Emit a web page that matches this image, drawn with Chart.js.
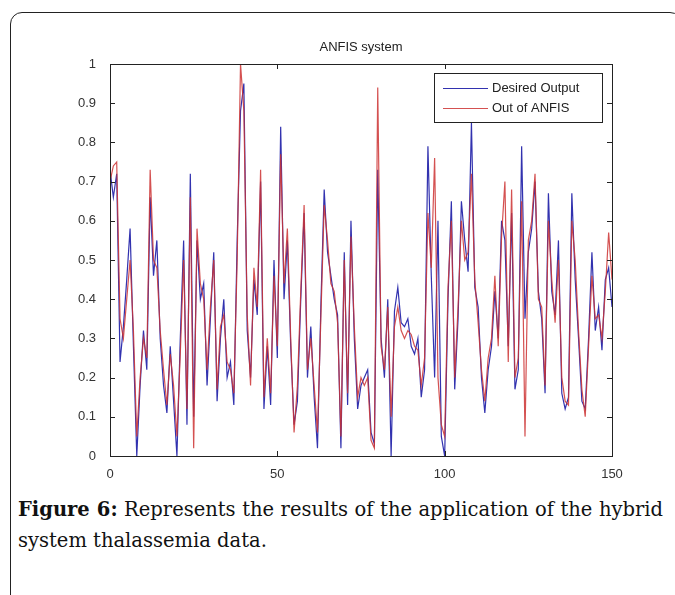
<!DOCTYPE html>
<html>
<head>
<meta charset="utf-8">
<script src="https://cdn.jsdelivr.net/npm/chart.js@4"></script>
<style>
  html,body{margin:0;padding:0;background:#fff;}
  #page{position:relative;width:675px;height:595px;overflow:hidden;}
  #frame{position:absolute;left:10px;top:12px;width:672px;height:640px;border:1.5px solid #222;border-radius:12px;box-sizing:border-box;}
  #wrap{position:absolute;left:0;top:0;width:675px;height:480px;}
  .cap{position:absolute;left:18px;width:645px;font-family:"DejaVu Serif",serif;font-size:19.5px;color:#111;white-space:nowrap;}
  #l1{top:498px;text-align:justify;text-align-last:justify;white-space:normal;}
  #l2{top:529px;}
</style>
</head>
<body>
<div id="page">
<div id="frame"></div>
<div id="wrap"><canvas id="c" width="675" height="480"></canvas></div>
<div class="cap" id="l1"><b>Figure 6:</b> Represents the results of the application of the hybrid</div>
<div class="cap" id="l2">system thalassemia data.</div>
</div>
<script>
const chartTitle = "ANFIS system";
const seriesNames = ["Desired Output", "Out of ANFIS"];
const xTickLabels = ["0", "50", "100", "150"];
const yTickLabels = ["0","0.1","0.2","0.3","0.4","0.5","0.6","0.7","0.8","0.9","1"];

const desired = [
0.73,0.66,0.72,0.24,0.33,0.45,0.58,0.28,0.00,0.18,
0.32,0.22,0.66,0.46,0.55,0.30,0.18,0.11,0.28,0.14,
0.00,0.30,0.55,0.08,0.72,0.10,0.55,0.40,0.44,0.18,
0.35,0.52,0.14,0.30,0.40,0.20,0.24,0.13,0.55,0.88,
0.95,0.32,0.20,0.45,0.36,0.70,0.12,0.28,0.13,0.50,
0.25,0.84,0.40,0.55,0.28,0.08,0.14,0.40,0.62,0.20,
0.33,0.15,0.02,0.38,0.68,0.52,0.46,0.40,0.36,0.02,
0.52,0.13,0.60,0.30,0.12,0.18,0.20,0.22,0.06,0.03,
0.73,0.30,0.20,0.40,0.00,0.37,0.43,0.34,0.33,0.35,
0.28,0.26,0.30,0.15,0.22,0.79,0.46,0.20,0.60,0.05,
0.00,0.40,0.65,0.17,0.35,0.65,0.55,0.47,0.85,0.43,
0.38,0.20,0.11,0.22,0.28,0.42,0.30,0.60,0.55,0.28,
0.62,0.17,0.22,0.79,0.35,0.52,0.58,0.70,0.42,0.35,
0.16,0.67,0.42,0.36,0.55,0.16,0.12,0.15,0.67,0.45,
0.30,0.14,0.12,0.30,0.52,0.32,0.38,0.27,0.45,0.48,
0.38];

const anfis = [
0.70,0.74,0.75,0.35,0.30,0.40,0.50,0.32,0.05,0.20,
0.30,0.25,0.73,0.50,0.48,0.32,0.22,0.13,0.26,0.18,
0.05,0.26,0.50,0.12,0.66,0.02,0.58,0.44,0.40,0.22,
0.38,0.50,0.17,0.33,0.36,0.24,0.22,0.16,0.50,1.00,
0.88,0.36,0.18,0.48,0.38,0.73,0.15,0.30,0.16,0.46,
0.28,0.77,0.44,0.58,0.30,0.06,0.18,0.42,0.64,0.22,
0.30,0.18,0.06,0.35,0.64,0.55,0.44,0.42,0.34,0.05,
0.50,0.16,0.56,0.33,0.15,0.20,0.18,0.20,0.04,0.02,
0.94,0.28,0.22,0.38,0.10,0.33,0.38,0.32,0.30,0.32,
0.31,0.28,0.27,0.18,0.25,0.62,0.48,0.76,0.20,0.08,
0.05,0.43,0.60,0.20,0.38,0.60,0.50,0.52,0.72,0.45,
0.34,0.22,0.14,0.25,0.30,0.46,0.28,0.56,0.70,0.24,
0.68,0.20,0.25,0.65,0.05,0.55,0.60,0.72,0.40,0.38,
0.18,0.60,0.45,0.34,0.50,0.20,0.14,0.13,0.60,0.50,
0.32,0.17,0.10,0.28,0.46,0.35,0.36,0.30,0.42,0.57,
0.45];

const BLUE = "rgb(50,50,175)";
const RED = "rgba(205,50,50,0.85)";
const FONT = "Liberation Sans";

const toXY = arr => arr.map((v,i)=>({x:i,y:v}));

const boxPlugin = {
  id:'matlabBox',
  afterDraw(chart){
    const {ctx, chartArea:a, scales:{x,y}} = chart;
    ctx.save();
    ctx.strokeStyle = "#222";
    ctx.lineWidth = 1;
    ctx.strokeRect(Math.round(a.left)+0.5, Math.round(a.top)+0.5, Math.round(a.right-a.left), Math.round(a.bottom-a.top));
    const tl = 5;
    ctx.beginPath();
    x.ticks.forEach(t=>{
      const px = Math.round(x.getPixelForValue(t.value))+0.5;
      ctx.moveTo(px,a.bottom); ctx.lineTo(px,a.bottom-tl);
      ctx.moveTo(px,a.top); ctx.lineTo(px,a.top+tl);
    });
    y.ticks.forEach(t=>{
      const py = Math.round(y.getPixelForValue(t.value))+0.5;
      ctx.moveTo(a.left,py); ctx.lineTo(a.left+tl,py);
      ctx.moveTo(a.right,py); ctx.lineTo(a.right-tl,py);
    });
    ctx.stroke();
    // title
    ctx.fillStyle = "#222";
    ctx.font = "13px '"+FONT+"'";
    ctx.textAlign = "center";
    ctx.textBaseline = "middle";
    ctx.fillText(chartTitle, (a.left+a.right)/2, 47);
    // legend
    const lx = 434, ly = 73, lw = 168, lh = 49;
    ctx.fillStyle = "#fff";
    ctx.fillRect(lx,ly,lw,lh);
    ctx.strokeStyle = "#222";
    ctx.strokeRect(lx+0.5,ly+0.5,lw,lh);
    const rows = [[seriesNames[0],BLUE,88],[seriesNames[1],RED,108]];
    ctx.textAlign = "left";
    ctx.font = "13px '"+FONT+"'";
    rows.forEach(([lab,col,ry])=>{
      ctx.strokeStyle = col; ctx.lineWidth = 1.2;
      ctx.beginPath(); ctx.moveTo(443,ry+0.5); ctx.lineTo(488,ry+0.5); ctx.stroke();
      ctx.fillStyle = "#222";
      ctx.fillText(lab, 492, ry);
    });
    ctx.restore();
  }
};

new Chart(document.getElementById('c'), {
  type:'line',
  data:{datasets:[
    {label:seriesNames[0], data:toXY(desired), borderColor:BLUE, borderWidth:1.2, pointRadius:0, tension:0, order:1},
    {label:seriesNames[1], data:toXY(anfis), borderColor:RED, borderWidth:1.2, pointRadius:0, tension:0, order:0}
  ]},
  options:{
    responsive:false, animation:false, maintainAspectRatio:false,
    layout:{padding:{top:64,left:0,right:63,bottom:0}},
    plugins:{legend:{display:false}, title:{display:false}, tooltip:{enabled:false}},
    scales:{
      x:{type:'linear', min:0, max:150,
         grid:{display:false}, border:{display:false},
         ticks:{stepSize:50, padding:3, color:"#333", font:{family:FONT,size:13},
                maxRotation:0, callback:(v)=>xTickLabels[Math.round(v/50)]},
         afterFit:s=>{s.height=24;}},
      y:{min:0, max:1,
         grid:{display:false}, border:{display:false},
         ticks:{stepSize:0.1, padding:6, color:"#333", font:{family:FONT,size:13},
                callback:(v)=>yTickLabels[Math.round(v*10)]},
         afterFit:s=>{s.width=110;}}
    }
  },
  plugins:[boxPlugin]
});
</script>
</body>
</html>
